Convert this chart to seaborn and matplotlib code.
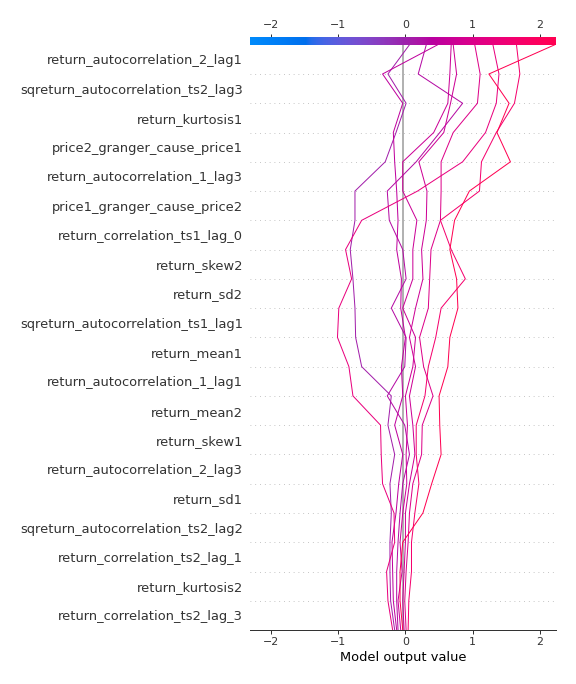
import numpy as np
import pandas as pd
import matplotlib
matplotlib.use("Agg")
import matplotlib.pyplot as plt
from matplotlib.colors import LinearSegmentedColormap
from matplotlib import cm, colors as mcolors
import seaborn as sns

# ---------------- data ----------------
features = [
    "return_autocorrelation_2_lag1",
    "sqreturn_autocorrelation_ts2_lag3",
    "return_kurtosis1",
    "price2_granger_cause_price1",
    "return_autocorrelation_1_lag3",
    "price1_granger_cause_price2",
    "return_correlation_ts1_lag_0",
    "return_skew2",
    "return_sd2",
    "sqreturn_autocorrelation_ts1_lag1",
    "return_mean1",
    "return_autocorrelation_1_lag1",
    "return_mean2",
    "return_skew1",
    "return_autocorrelation_2_lag3",
    "return_sd1",
    "sqreturn_autocorrelation_ts2_lag2",
    "return_correlation_ts2_lag_1",
    "return_kurtosis2",
    "return_correlation_ts2_lag_3",
]
base_value = -0.035
x_ticks = [-2, -1, 0, 1, 2]

# cumulative model output at each feature boundary, listed from the top (final output) to the bottom
obs_a = [0.06, -0.26, 0.01, -0.14, -0.30, -0.75, -0.75, -0.82, -0.78, -0.75, -0.74, -0.65, -0.21, -0.26, -0.16, -0.23, -0.21, -0.23, -0.23, -0.22, -0.16]
obs_b = [0.31, 0.19, 0.85, 0.51, 0.16, -0.27, -0.24, -0.04, 0.01, -0.21, 0.01, -0.01, -0.27, -0.01, 0.06, -0.04, -0.08, -0.11, -0.13, -0.13, -0.11]
obs_c = [0.48, -0.34, -0.04, -0.18, -0.16, -0.13, -0.11, -0.13, -0.06, -0.07, 0.00, -0.06, -0.04, -0.16, -0.04, -0.10, -0.14, -0.20, -0.19, -0.18, -0.13]
obs_d = [0.68, 0.66, 0.63, 0.42, -0.04, -0.04, 0.17, 0.11, 0.11, -0.04, 0.15, 0.11, 0.00, 0.03, 0.01, 0.02, -0.04, -0.08, -0.05, -0.11, -0.07]
obs_e = [0.71, 0.76, 0.67, 0.57, 0.20, 0.32, 0.31, 0.24, 0.26, 0.15, 0.06, 0.15, 0.06, 0.11, 0.14, 0.06, 0.00, 0.00, -0.02, -0.04, -0.02]
obs_f = [1.03, 1.11, 1.07, 0.71, 0.53, 0.53, 0.52, 0.38, 0.36, 0.34, 0.21, 0.27, 0.41, 0.25, 0.24, 0.11, 0.06, 0.04, 0.01, -0.01, 0.01]
obs_g = [1.30, 1.39, 1.35, 1.19, 0.85, 0.18, -0.65, -0.89, -0.80, -0.99, -1.01, -0.84, -0.78, -0.37, -0.36, -0.34, -0.17, -0.16, -0.28, -0.26, -0.19]
obs_h = [1.65, 1.70, 1.62, 1.35, 1.13, 1.10, 0.52, 0.68, 0.89, 0.53, 0.45, 0.34, 0.29, 0.16, 0.16, 0.20, 0.14, 0.09, 0.09, 0.05, 0.04]
obs_j = [2.22, 1.24, 1.54, 1.36, 1.56, 0.95, 0.73, 0.66, 0.76, 0.78, 0.66, 0.63, 0.50, 0.51, 0.53, 0.39, 0.26, -0.04, -0.08, -0.08, -0.04]
observations = {"a": obs_a, "b": obs_b, "c": obs_c, "d": obs_d, "e": obs_e,
                "f": obs_f, "g": obs_g, "h": obs_h, "j": obs_j}

# ---------------- shap red_blue colormap ----------------
def lch2rgb(l, c, h):
    a = c * np.cos(h)
    b = c * np.sin(h)
    fy = (l + 16.0) / 116.0
    fx = fy + a / 500.0
    fz = fy - b / 200.0

    def finv(t):
        return t ** 3 if t > 0.2068966 else (t - 16.0 / 116.0) / 7.787

    xyz = np.array([0.95047 * finv(fx), finv(fy), 1.08883 * finv(fz)])
    M = np.array([[3.2404542, -1.5371385, -0.4985314],
                  [-0.9692660, 1.8760108, 0.0415560],
                  [0.0556434, -0.2040259, 1.0572252]])
    rgb = M @ xyz
    rgb = np.where(rgb > 0.0031308, 1.055 * np.power(np.clip(rgb, 0, None), 1 / 2.4) - 0.055, 12.92 * rgb)
    return np.clip(rgb, 0, 1)

blue_lch = [54., 70., 4.6588]
l_mid = 40.
red_lch = [54., 90., 0.35470565 + 2 * np.pi]
nsteps = 100
l_vals = list(np.linspace(blue_lch[0], l_mid, nsteps // 2)) + list(np.linspace(l_mid, red_lch[0], nsteps // 2))
c_vals = np.linspace(blue_lch[1], red_lch[1], nsteps)
h_vals = np.linspace(blue_lch[2], red_lch[2], nsteps)
cmap_list = [(p, lch2rgb(l, c, h)) for p, l, c, h in zip(np.linspace(0, 1, nsteps), l_vals, c_vals, h_vals)]
red_blue = LinearSegmentedColormap.from_list("red_blue", cmap_list)

# ---------------- figure ----------------
sns.set_style("white")
plt.rcParams["font.family"] = ["DejaVu Sans"]
axis_color = "#333333"

n = len(features)
fig = plt.figure(figsize=(8, 9.5), dpi=72)
ax = fig.add_axes([0.434, 0.0789, 0.531, 0.8664])

xlim = (-2.31, 2.235)
m = cm.ScalarMappable(cmap=red_blue, norm=mcolors.Normalize(*xlim))

rows = []
palette = {}
positions = np.arange(n, -1, -1)
for name, vals in observations.items():
    palette[name] = m.to_rgba(vals[0])
    for p, v in zip(positions, vals):
        rows.append({"sample": name, "value": v, "position": p})
df = pd.DataFrame(rows)

# horizontal grid
for i in range(n):
    ax.axhline(i, color="#aaaaaa", lw=0.8, dashes=(1, 5), zorder=-1)

# base value line
ax.plot([base_value, base_value], [0, n], color="#999999", lw=1.5, zorder=1)

sns.lineplot(data=df, x="value", y="position", hue="sample", palette=palette,
             sort=False, estimator=None, legend=False, linewidth=1, ax=ax, zorder=2)

# colorbar strip at the top
grad = np.linspace(0, 1, 256)[None, :]
ax.imshow(grad, extent=(xlim[0], xlim[1], n, n + 0.25), aspect="auto", cmap=red_blue, zorder=3)

ax.set_xlim(*xlim)
ax.set_ylim(0, n + 0.25)
ax.set_yticks(np.arange(n) + 0.5)
ax.set_yticklabels(features[::-1], fontsize=13)
ax.set_xticks(x_ticks)
ax.set_xticklabels([f"\u2212{abs(t)}" if t < 0 else str(t) for t in x_ticks])
ax.tick_params(axis="y", left=False, labelcolor=axis_color)
ax.tick_params(axis="x", top=True, bottom=True, labeltop=True, labelbottom=True,
               color=axis_color, labelcolor=axis_color, labelsize=11, length=3.5, width=1, direction="out")
ax.set_ylabel("")
ax.set_xlabel("Model output value", fontsize=13, color="#000000")
for s in ["left", "right", "top"]:
    ax.spines[s].set_visible(False)
ax.spines["bottom"].set_color(axis_color)
ax.spines["bottom"].set_linewidth(1)

fig.savefig("out.png", dpi=72)
